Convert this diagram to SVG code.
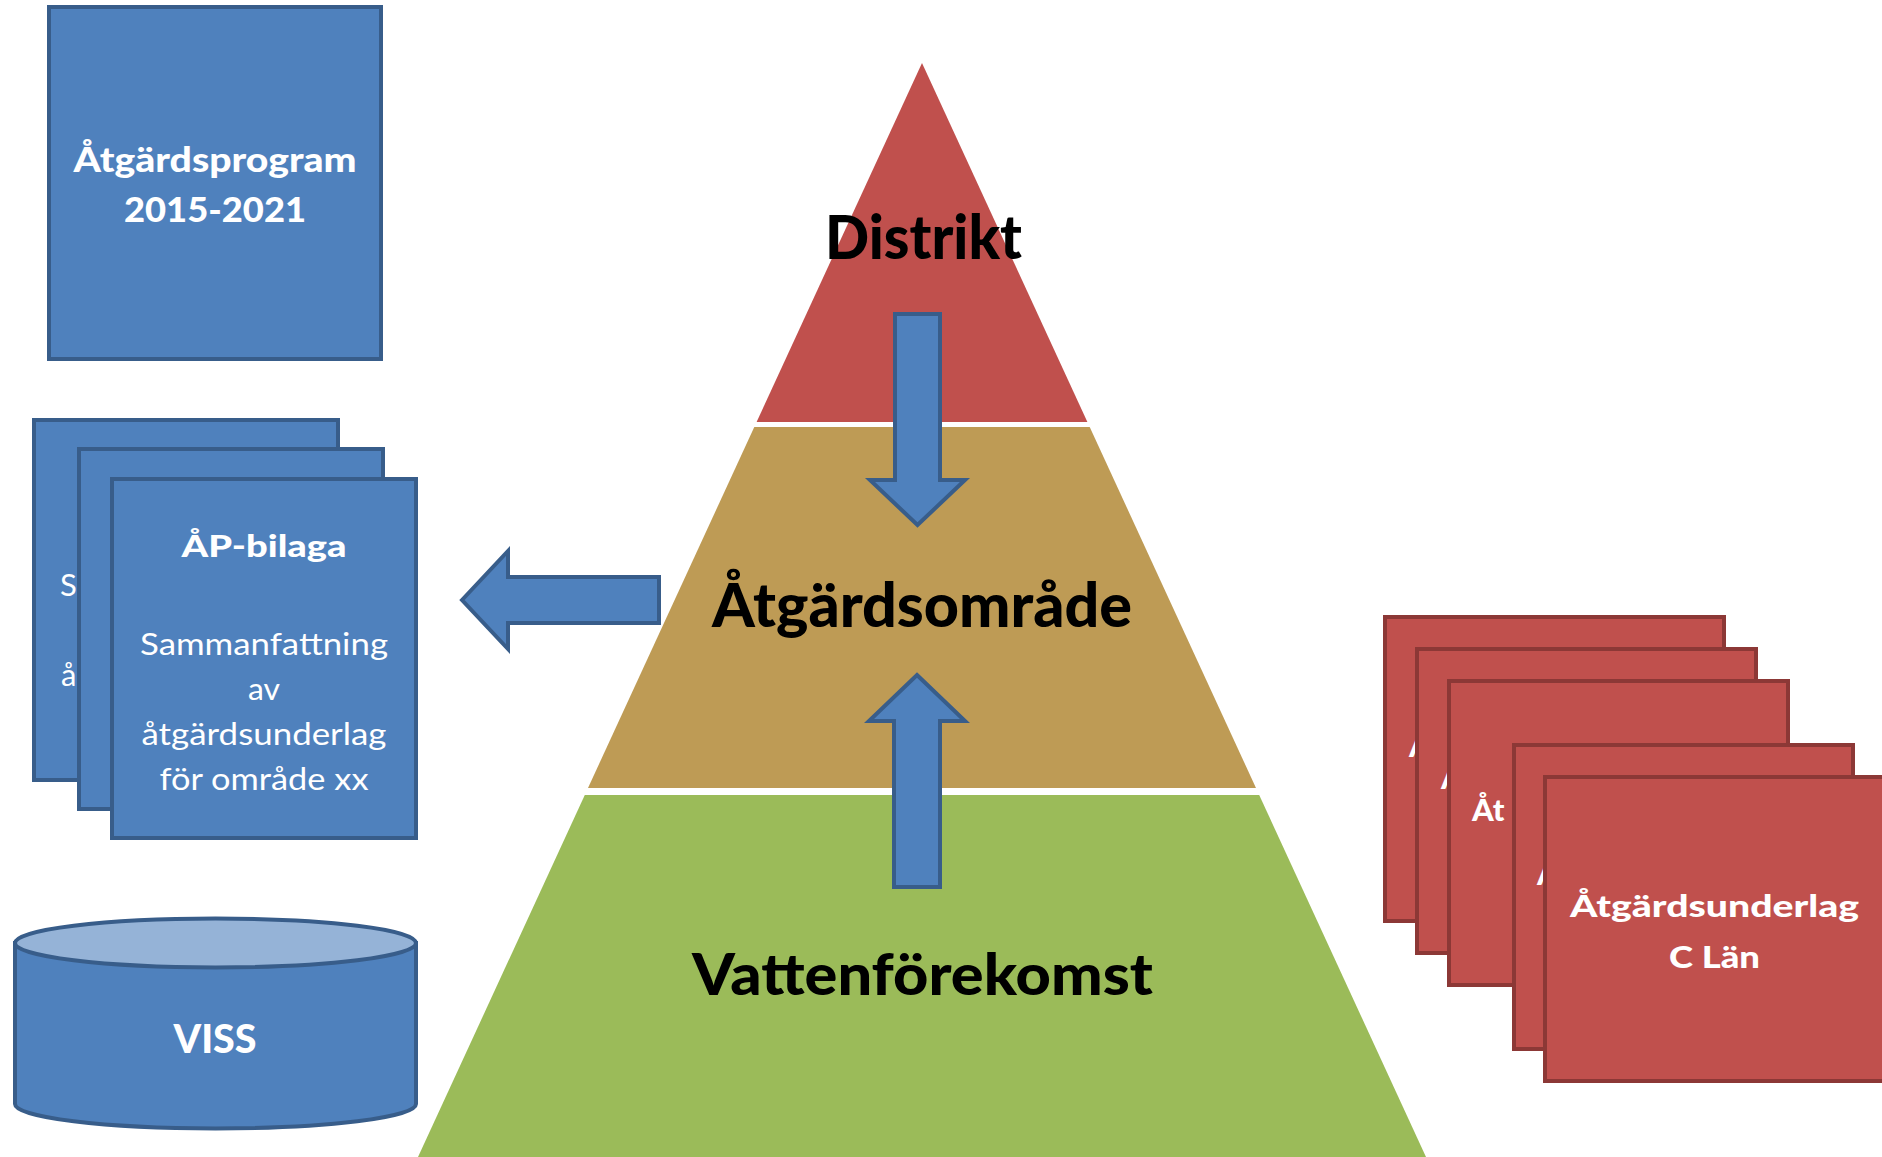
<svg xmlns="http://www.w3.org/2000/svg" width="1882" height="1157" viewBox="0 0 1882 1157">
<style>
.bl{fill:#4F81BD;stroke:#385D8A;stroke-width:4}
.rd{fill:#C0504D;stroke:#8C3836;stroke-width:4}
.wt{fill:#fff;font-family:Lato,"Open Sans","Liberation Sans",sans-serif;text-anchor:middle}
.st{text-anchor:start}
.b{font-weight:900}
.pt{fill:#000;font-family:Lato,"Open Sans","Liberation Sans",sans-serif;font-weight:900;text-anchor:middle}
</style>
<rect width="1882" height="1157" fill="#fff"/>
<g id="pyramid">
<polygon points="922,63 1087.4,422 756.6,422" fill="#C0504D"/>
<polygon points="754.3,427 1089.7,427 1256,788 588,788" fill="#BE9B55"/>
<polygon points="584.8,795 1259.2,795 1426,1157 418,1157" fill="#9BBB59"/>
</g>
<g id="atgardsprogram">
<rect class="bl" x="49" y="7" width="332" height="352"/>
<text class="wt b" font-size="35" x="215" y="172" textLength="283" lengthAdjust="spacingAndGlyphs">Åtgärdsprogram</text>
<text class="wt b" font-size="35" x="215" y="222" textLength="182" lengthAdjust="spacingAndGlyphs">2015-2021</text>
</g>
<g id="ap-bilaga-1">
<rect class="bl" x="34" y="420" width="304" height="360"/>
<text class="wt st" font-size="31" x="60" y="596">S</text>
<text class="wt st" font-size="31" x="61" y="686">å</text>
</g>
<g id="ap-bilaga-2">
<rect class="bl" x="79" y="449" width="304" height="360"/>
</g>
<g id="ap-bilaga-3">
<rect class="bl" x="112" y="479" width="304" height="359"/>
<text class="wt b" font-size="31" x="264" y="557" textLength="165" lengthAdjust="spacingAndGlyphs">ÅP-bilaga</text>
<text class="wt" font-size="31" x="264" y="655" textLength="248" lengthAdjust="spacingAndGlyphs">Sammanfattning</text>
<text class="wt" font-size="31" x="264" y="700" textLength="32" lengthAdjust="spacingAndGlyphs">av</text>
<text class="wt" font-size="31" x="264" y="745" textLength="245" lengthAdjust="spacingAndGlyphs">åtgärdsunderlag</text>
<text class="wt" font-size="31" x="264" y="790" textLength="209" lengthAdjust="spacingAndGlyphs">för område xx</text>
</g>
<g id="viss">
<path class="bl" d="M15,943 L15,1104 A200.5,24.5 0 0 0 416,1104 L416,943 Z"/>
<ellipse cx="215.5" cy="943" rx="200.5" ry="24.5" fill="#95B3D7" stroke="#385D8A" stroke-width="4"/>
<text class="wt b" font-size="39" x="215" y="1053" textLength="83" lengthAdjust="spacingAndGlyphs">VISS</text>
</g>
<g id="underlag-1">
<rect class="rd" x="1385" y="617" width="339" height="304"/>
<text class="wt b st" font-size="31" x="1409" y="757">Å</text>
</g>
<g id="underlag-2">
<rect class="rd" x="1417" y="649" width="339" height="304"/>
<text class="wt b st" font-size="31" x="1441" y="789">Å</text>
</g>
<g id="underlag-3">
<rect class="rd" x="1449" y="681" width="339" height="304"/>
<text class="wt b st" font-size="31" x="1472" y="821">Åt</text>
</g>
<g id="underlag-4">
<rect class="rd" x="1514" y="745" width="339" height="304"/>
<text class="wt b st" font-size="31" x="1537" y="885">Å</text>
</g>
<g id="underlag-5">
<rect class="rd" x="1545" y="777" width="339" height="304"/>
<text class="wt b" font-size="31" x="1714.5" y="917" textLength="289" lengthAdjust="spacingAndGlyphs">Åtgärdsunderlag</text>
<text class="wt b" font-size="31" x="1714.5" y="968" textLength="91" lengthAdjust="spacingAndGlyphs">C Län</text>
</g>
<g id="connectors">
<polygon class="bl" points="895,314 940,314 940,480 965,480 917.5,525 870,480 895,480"/>
<polygon class="bl" points="917,675 965,721 940,721 940,887 894,887 894,721 869,721"/>
<polygon class="bl" points="462,600 508,551 508,577 659,577 659,623 508,623 508,649"/>
</g>
<g id="labels">
<text class="pt" font-size="60" x="923.5" y="259" textLength="197" lengthAdjust="spacingAndGlyphs">Distrikt</text>
<text class="pt" font-size="60" x="922" y="627" textLength="420" lengthAdjust="spacingAndGlyphs">Åtgärdsområde</text>
<text class="pt" font-size="58" x="922.5" y="995" textLength="461" lengthAdjust="spacingAndGlyphs">Vattenförekomst</text>
</g>
</svg>
